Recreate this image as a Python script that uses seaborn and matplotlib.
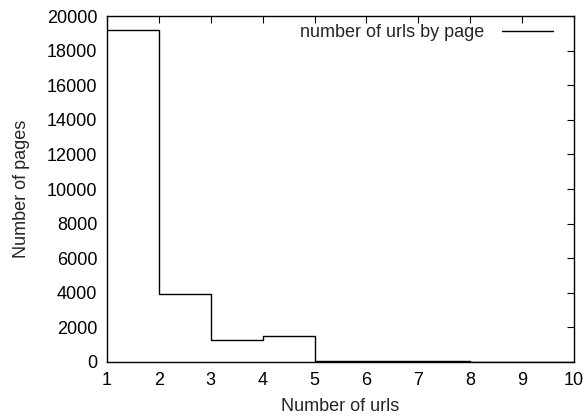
import pandas as pd
import matplotlib.pyplot as plt
import seaborn as sns

# valeurs
nb_urls = [1, 2, 3, 4, 5, 6, 7, 8, 9, 10]
nb_pages = [19200, 3950, 1250, 1480, 50, 70, 40, 25, 10, 10]

sns.set_theme(style="white")
plt.rcParams['font.family'] = ['Liberation Sans', 'DejaVu Sans']

df = pd.DataFrame({"urls": nb_urls, "pages": nb_pages})

fig = plt.figure(figsize=(5.86, 4.17), dpi=100)
ax = fig.add_axes([0.1826, 0.1319, 0.797, 0.8297])

sns.lineplot(data=df, x="urls", y="pages", drawstyle="steps-post",
             color="black", linewidth=1.0, label="number of urls by page", ax=ax)

ax.set_xlim(1, 10)
ax.set_ylim(0, 20000)
ax.set_xticks(range(1, 11))
ax.set_yticks(range(0, 20001, 2000))
ax.tick_params(direction="in", length=5, width=0.8, top=True, right=True,
               labelsize=13, colors="black", pad=7)
for s in ax.spines.values():
    s.set_color("black")
    s.set_linewidth(1.0)

ax.set_xlabel("Number of urls", fontsize=13, labelpad=7)
ax.set_ylabel("Number of pages", fontsize=13, labelpad=12)

leg = ax.legend(loc="upper right", bbox_to_anchor=(0.955, 0.976),
                frameon=False, markerfirst=False, fontsize=13,
                handlelength=2.8, handletextpad=1.0,
                borderaxespad=0, borderpad=0)

fig.savefig("out.png", dpi=100)
